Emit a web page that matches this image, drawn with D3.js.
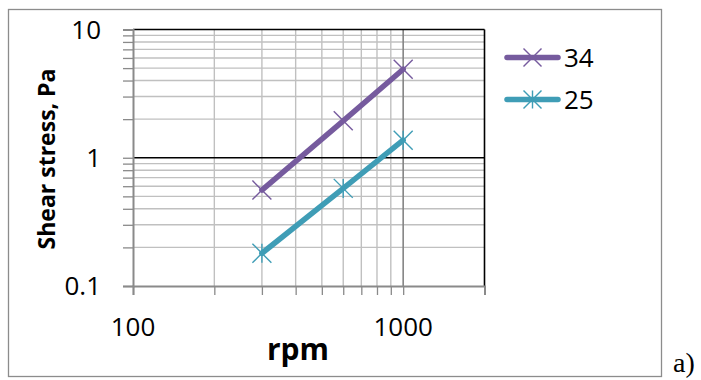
<!DOCTYPE html>
<html>
<head>
<meta charset="utf-8">
<script src="https://cdn.jsdelivr.net/npm/d3@7"></script>
<style>
  html, body { margin: 0; padding: 0; background: #fff; }
  svg { display: block; }
  text { font-family: "Open Sans", "Liberation Sans", sans-serif; fill: #000; }
</style>
</head>
<body>
<svg id="chart" width="701" height="380"></svg>
<script>
// Shear stress vs. rotational speed, log–log
const rpm = [300, 600, 1000];
const series34 = [0.56, 1.94, 4.9];
const series25 = [0.18, 0.577, 1.37];
const seriesNames = ["34", "25"];
const xTickLabels = [100, 1000];
const yTickLabels = [0.1, 1, 10];

const svg = d3.select("#chart");
const plot = { left: 133, right: 484.5, top: 29.5, bottom: 286 };

const x = d3.scaleLog().domain([100, 2000]).range([plot.left, plot.right]);
const y = d3.scaleLog().domain([0.1, 10]).range([plot.bottom, plot.top]);

// outer chart border
svg.append("rect")
  .attr("x", 8.5).attr("y", 9.5).attr("width", 653).attr("height", 367)
  .attr("fill", "#fff").attr("stroke", "#8c8c8c").attr("stroke-width", 1.3);

// minor gridlines
const xMinor = [200, 300, 400, 500, 600, 700, 800, 900];
const yMinor = [];
[0.1, 1].forEach(d => { for (let k = 2; k <= 9; k++) yMinor.push(+(d * k).toFixed(2)); });

const g = svg.append("g");
g.selectAll(".xminor").data(xMinor).join("line")
  .attr("x1", d => x(d)).attr("x2", d => x(d))
  .attr("y1", plot.top).attr("y2", plot.bottom)
  .attr("stroke", "#c0c0c0").attr("stroke-width", 1.4);
g.selectAll(".yminor").data(yMinor).join("line")
  .attr("x1", plot.left).attr("x2", plot.right)
  .attr("y1", d => y(d)).attr("y2", d => y(d))
  .attr("stroke", "#c0c0c0").attr("stroke-width", 1.4);

// major gridlines
g.append("line")
  .attr("x1", x(1000)).attr("x2", x(1000))
  .attr("y1", plot.top).attr("y2", plot.bottom)
  .attr("stroke", "#858585").attr("stroke-width", 1.6);
g.selectAll(".ymajor").data([1, 10]).join("line")
  .attr("x1", plot.left).attr("x2", plot.right)
  .attr("y1", d => y(d)).attr("y2", d => y(d))
  .attr("stroke", "#000").attr("stroke-width", 1.6);

// right plot border
g.append("line")
  .attr("x1", plot.right).attr("x2", plot.right)
  .attr("y1", plot.top).attr("y2", plot.bottom)
  .attr("stroke", "#000").attr("stroke-width", 1.6);

// axes
const xTicks = xMinor.concat([1000, 2000, 100]);
const xAxis = d3.axisBottom(x).tickValues(xTicks).tickSize(9).tickFormat("");
const yTicks = yMinor.concat([0.1, 1, 10]);
const yAxis = d3.axisLeft(y).tickValues(yTicks).tickSize(10).tickFormat("");

const gx = svg.append("g").attr("transform", `translate(0,${plot.bottom})`).call(xAxis);
const gy = svg.append("g").attr("transform", `translate(${plot.left},0)`).call(yAxis);
[gx, gy].forEach(a => {
  a.selectAll("path.domain").attr("stroke", "#8a8a8a").attr("stroke-width", 2);
  a.selectAll(".tick line").attr("stroke", "#8a8a8a").attr("stroke-width", 1.3);
});

// tick labels
svg.selectAll(".ylab").data(yTickLabels).join("text")
  .attr("x", 101).attr("y", d => y(d)).attr("dy", "0.36em")
  .attr("text-anchor", "end").attr("font-size", 26)
  .text(d => d);
svg.selectAll(".xlab").data(xTickLabels).join("text")
  .attr("x", d => x(d)).attr("y", 336)
  .attr("text-anchor", "middle").attr("font-size", 26)
  .text(d => d);

// axis titles
svg.append("text")
  .attr("x", 298).attr("y", 360)
  .attr("text-anchor", "middle").attr("font-size", 30).attr("font-weight", "bold")
  .text("rpm");
svg.append("text")
  .attr("transform", "translate(55,159) rotate(-90)")
  .attr("text-anchor", "middle").attr("font-size", 23).attr("font-weight", "bold")
  .text("Shear stress, Pa");

// series
const colors = ["#765b9e", "#3f9db6"];
const data = [series34, series25];
const line = d3.line().x(d => x(d[0])).y(d => y(d[1]));

function marker(sel, type, cx, cy, r, color) {
  const s = sel.append("g").attr("transform", `translate(${cx},${cy})`)
    .attr("stroke", color).attr("stroke-width", 1.4).attr("fill", "none");
  s.append("line").attr("x1", -r).attr("y1", -r).attr("x2", r).attr("y2", r);
  s.append("line").attr("x1", -r).attr("y1", r).attr("x2", r).attr("y2", -r);
  if (type === "star") s.append("line").attr("x1", 0).attr("y1", -r).attr("x2", 0).attr("y2", r);
}

data.forEach((vals, i) => {
  const pts = rpm.map((r, j) => [r, vals[j]]);
  svg.append("path").datum(pts)
    .attr("d", line).attr("fill", "none")
    .attr("stroke", colors[i]).attr("stroke-width", 5.5)
    .attr("stroke-linecap", "round").attr("stroke-linejoin", "round");
  pts.forEach(p => marker(svg, i === 0 ? "x" : "star", x(p[0]), y(p[1]), 9.5, colors[i]));
});

// legend
const legendY = [57.5, 99.5];
seriesNames.forEach((name, i) => {
  svg.append("line")
    .attr("x1", 507).attr("x2", 558).attr("y1", legendY[i]).attr("y2", legendY[i])
    .attr("stroke", colors[i]).attr("stroke-width", 5.5).attr("stroke-linecap", "round");
  marker(svg, i === 0 ? "x" : "star", 532.5, legendY[i], 9, colors[i]);
  svg.append("text")
    .attr("x", 564).attr("y", legendY[i]).attr("dy", "0.36em")
    .attr("font-size", 26).text(name);
});

// panel label (serif, outside the chart frame)
svg.append("text")
  .attr("x", 673).attr("y", 372)
  .style("font-family", "'Liberation Serif', 'DejaVu Serif', serif")
  .attr("font-size", 28).text("a)");
</script>
</body>
</html>
